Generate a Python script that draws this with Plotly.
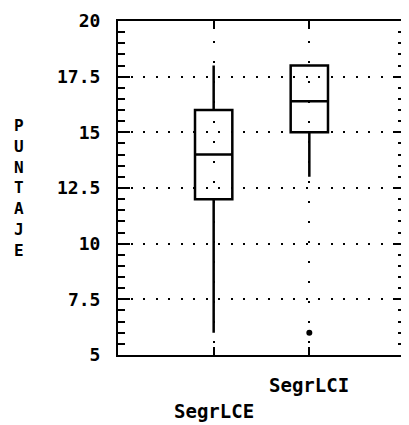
import plotly.graph_objects as go

categories = ["SegrLCE", "SegrLCI"]
cat_pos = [0, 1]
q1 = [12, 15]
median = [14, 16.4]
q3 = [16, 18]
lower = [6, 13]
upper = [18, 18]
outlier_cat = [1]
outlier_val = [6]
y_ticks = [5, 7.5, 10, 12.5, 15, 17.5, 20]
y_ticktext = ["5", "7.5", "10", "12.5", "15", "17.5", "20"]
y_title = "PUNTAJE"

FONT = "DejaVu Sans Mono"

fig = go.Figure()
for i, c in enumerate(categories):
    fig.add_trace(go.Box(
        x=[cat_pos[i]], q1=[q1[i]], median=[median[i]], q3=[q3[i]],
        lowerfence=[lower[i]], upperfence=[upper[i]],
        width=0.39, whiskerwidth=0, boxpoints=False,
        fillcolor="rgba(0,0,0,0)", line=dict(color="black", width=2.5),
        name=c, showlegend=False,
    ))
fig.add_trace(go.Scatter(
    x=outlier_cat, y=outlier_val, mode="markers",
    marker=dict(color="black", size=6), showlegend=False,
))

for i, c in enumerate(categories):
    fig.add_annotation(
        x=cat_pos[i], xref="x", y=-0.09 - 0.077 * (1 - i), yref="paper",
        text=c, showarrow=False, xanchor="center", yanchor="middle",
        font=dict(family=FONT, size=19, color="black", weight="bold"),
    )

fig.add_annotation(
    x=-0.346, xref="paper", y=0.5, yref="paper",
    text="<br>".join(list(y_title)), showarrow=False,
    xanchor="center", yanchor="middle", align="center",
    font=dict(family=FONT, size=16, color="black", weight="bold"),
)

fig.update_layout(
    width=401, height=417,
    margin=dict(l=110, r=2, t=12, b=70),
    paper_bgcolor="white", plot_bgcolor="white",
    font=dict(family=FONT, color="black"),
    xaxis=dict(
        range=[-1, 2], tickvals=cat_pos, ticktext=["", ""],
        showgrid=True, gridcolor="black", gridwidth=2, griddash="2px,18px",
        ticks="inside", ticklen=8, tickwidth=2, tickcolor="black",
        showline=True, linecolor="black", linewidth=2, mirror="ticks",
        zeroline=False,
    ),
    yaxis=dict(
        range=[5, 20], tickvals=y_ticks, ticktext=y_ticktext,
        showgrid=True, gridcolor="black", gridwidth=2, griddash="2px,10.5px",
        ticks="inside", ticklen=12, tickwidth=2, tickcolor="black",
        showline=True, linecolor="black", linewidth=2, mirror="ticks",
        zeroline=False, ticklabelstandoff=12,
        tickfont=dict(family=FONT, size=18, color="black", weight="bold"),
        minor=dict(dtick=0.5, tick0=0, ticks="inside", ticklen=7, tickwidth=2,
                   tickcolor="black", showgrid=False),
    ),
)

fig.write_html("out.html")
